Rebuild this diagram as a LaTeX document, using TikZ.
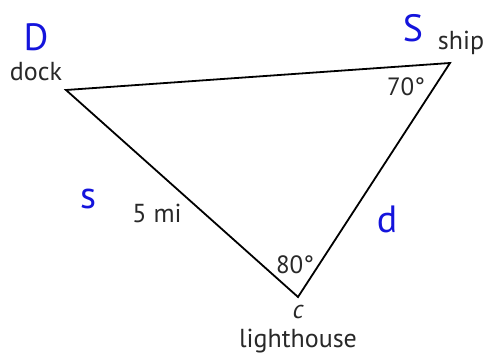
\documentclass[tikz,border=0pt]{standalone}
\usepackage{fontspec}
\setmainfont{PT Sans}
\usepackage{tikz}
\usetikzlibrary{positioning}
\definecolor{letterblue}{RGB}{20,20,220}
\definecolor{labelgray}{RGB}{40,40,40}

\begin{document}
\begin{tikzpicture}[x=1pt, y=-1pt, line width=1.8pt]
  \tikzstyle{letter} = [text=letterblue, font=\fontsize{38}{38}\selectfont, inner sep=0pt]
  \tikzstyle{place} = [text=labelgray, font=\fontsize{26}{26}\selectfont, inner sep=0pt]
  \tikzstyle{angle} = [text=labelgray, font=\fontsize{25}{25}\selectfont, inner sep=0pt]

  \useasboundingbox (0,0) rectangle (485,355);

  \coordinate (dock) at (66,90);
  \coordinate (ship) at (450,63);
  \coordinate (light) at (298,297);

  % triangle
  \draw[black, line join=miter] (dock) -- (ship) -- (light) -- cycle;

  \node[letter] (D) at (36,37) {D};
  \node[place] (dockname) at (36,72) {dock};
  \node[letter] (S) at (413,28) {S};
  \node[place] (shipname) at (461,43) {ship};
  \node[angle] (ang70) at (406,87) {70°};
  \node[letter] (s) at (88,199) {s};
  \node[place] (dist) at (157,213) {5 mi};
  \node[letter] (d) at (387,219) {d};
  \node[angle] (ang80) at (295,265) {80°};
  \node[place] (c) at (298,312) {\itshape c};
  \node[place] (lightname) at (298,341) {lighthouse};
\end{tikzpicture}
\end{document}
